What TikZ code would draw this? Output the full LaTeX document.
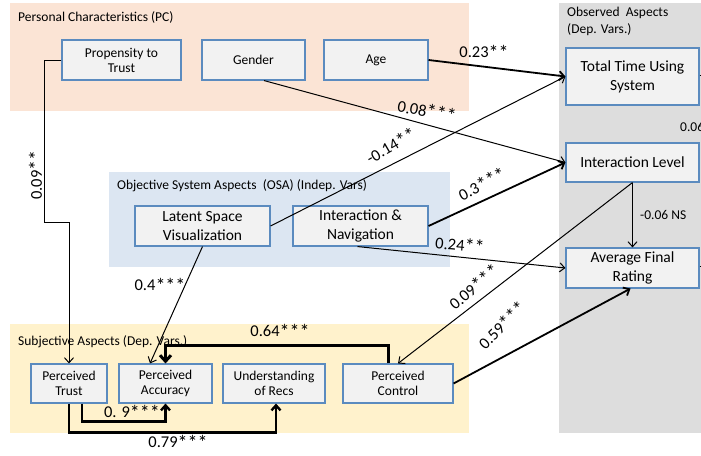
\documentclass[tikz,border=0pt]{standalone}
\usepackage{fontspec}
\setmainfont{Carlito}
\usetikzlibrary{arrows.meta}
\definecolor{pcbg}{HTML}{FBE4D5}
\definecolor{osabg}{HTML}{DCE6F2}
\definecolor{subbg}{HTML}{FFF2CC}
\definecolor{obsbg}{HTML}{DDDDDD}
\definecolor{boxfill}{HTML}{F2F2F2}
\definecolor{boxline}{HTML}{5B8BBF}
\newcommand\stars[1]{\raisebox{-1.2pt}{\fontsize{20}{20}\selectfont #1}}
\begin{document}
\begin{tikzpicture}[x=1pt,y=-1pt,
  box/.style={draw=boxline, fill=boxfill, line width=1.1pt, align=center, inner sep=0pt, font=\fontsize{13.5}{15}\selectfont},
  bigbox/.style={box, font=\fontsize{15.5}{19}\selectfont},
  gtitle/.style={anchor=west, inner sep=0pt, font=\fontsize{13.5}{17}\selectfont, align=left},
  lbl/.style={inner sep=0pt, font=\fontsize{16.5}{18}\selectfont},
  slbl/.style={inner sep=0pt, font=\fontsize{13.5}{15}\selectfont},
  conn/.style={line width=1pt, -{Straight Barb[length=5pt,width=9pt]}},
  connm/.style={line width=1.8pt, -{Straight Barb[length=5pt,width=9pt]}},
  connk/.style={line width=2.4pt, -{Straight Barb[length=5pt,width=9pt]}},
  connh/.style={line width=3pt, -{Straight Barb[length=6pt,width=11pt]}}
]
\useasboundingbox (0,0) rectangle (701,455);
\fill[white] (0,0) rectangle (701,455);

% group backgrounds
\fill[pcbg] (10,3) rectangle (469,111);
\fill[obsbg] (559,3) rectangle (701,433);
\fill[osabg] (109,172) rectangle (450,267);
\fill[subbg] (10,324) rectangle (469,433);

% group titles
\node[gtitle] (tpc) at (18,17) {Personal Characteristics (PC)};
\node[gtitle, anchor=north west] (tobs) at (567,7) {Observed\ \ Aspects\\(Dep. Vars.)};
\node[gtitle] (tosa) at (117,186) {Objective System Aspects\ \ (OSA) (Indep. Vars)};
\node[gtitle] (tsub) at (18,342) {Subjective Aspects (Dep. Vars.)};

% nodes
\node[box, minimum width=119pt, minimum height=40pt] (prop) at (121.5,60) {Propensity to\\Trust};
\node[box, minimum width=103pt, minimum height=40pt] (gender) at (253.5,60) {Gender};
\node[box, minimum width=104pt, minimum height=40pt] (age) at (376,60) {Age};

\node[bigbox, minimum width=133pt, minimum height=57pt] (total) at (632.5,76.5) {Total Time Using\\System};
\node[bigbox, minimum width=133pt, minimum height=39pt] (intlev) at (632.5,162.5) {Interaction Level};
\node[bigbox, minimum width=133pt, minimum height=40pt] (avg) at (632.5,268) {Average Final\\Rating};

\node[bigbox, minimum width=135pt, minimum height=40pt] (latent) at (202.5,226) {Latent Space\\Visualization};
\node[bigbox, minimum width=135pt, minimum height=40pt] (internav) at (360.5,226) {Interaction \&\\Navigation};

\node[box, minimum width=76pt, minimum height=39pt] (ptrust) at (69,383.5) {Perceived\\Trust};
\node[box, minimum width=93pt, minimum height=39pt] (pacc) at (165.5,383.5) {Perceived\\Accuracy};
\node[box, minimum width=102pt, minimum height=39pt] (under) at (274,383.5) {Understanding\\of Recs};
\node[box, minimum width=110pt, minimum height=39pt] (pctrl) at (398,383.5) {Perceived\\Control};

% cut-off stubs at the right edge
\coordinate (stubA) at (704,75);
\coordinate (stubB) at (704,266);
\draw[line width=0.9pt] ([yshift=1.5pt]total.east) -- (stubA);
\draw[line width=0.9pt] ([yshift=2pt]avg.east) -- (stubB);
\node[slbl, anchor=west] (l006) at (680,127) {0.06};

% connectors
\draw[conn] (prop.west) -- ++(-17,0) |- (69,222) -- (ptrust.north);
\draw[conn] ([xshift=10.5pt]gender.south) -- (intlev.west);
\draw[connm] (age.east) -- (total.west);
\draw[conn] (latent.east) -- (total.west);
\draw[connm] (internav.east) -- (intlev.west);
\draw[conn] ([xshift=-3pt]internav.south) -- (avg.west);
\draw[conn] (intlev.south) -- (avg.north);
\draw[conn] (intlev.south) -- (pctrl.north);
\draw[connm] (pctrl.east) -- ([xshift=-2pt]avg.south);
\draw[conn] (latent.south) -- ([xshift=-15.5pt]pacc.north);
\draw[connh] ([xshift=-10pt]pctrl.north) -- ++(0,-18) -| (pacc.north);
\draw[connk] ([xshift=13pt]ptrust.south) -- ++(0,18) -| (pacc.south);
\draw[connk] (ptrust.south) -- ++(0,29) -| ([xshift=2pt]under.south);

% labels
\node[lbl, rotate=90] (l1) at (36,175) {0.09\stars{**}};
\node[lbl, rotate=-10] (l2) at (427,111) {0.08\stars{***}};
\node[lbl] (l3) at (484,52) {0.23\stars{**}};
\node[lbl, rotate=30] (l4) at (391,146) {-0.14\stars{**}};
\node[lbl, rotate=28] (l5) at (482,184) {0.3\stars{***}};
\node[lbl, rotate=-5] (l6) at (460,245) {0.24\stars{**}};
\node[slbl, anchor=west] (l7) at (640,215) {-0.06 NS};
\node[lbl, rotate=40] (l8) at (474,287) {0.09\stars{***}};
\node[lbl, rotate=45] (l9) at (502,325) {0.59\stars{***}};
\node[lbl] (l10) at (160,285) {0.4\stars{***}};
\node[lbl] (l11) at (280,331) {0.64\stars{***}};
\node[lbl] (l12) at (132,412) {0. 9\stars{***}};
\node[lbl] (l13) at (178,442) {0.79\stars{***}};
\end{tikzpicture}
\end{document}
